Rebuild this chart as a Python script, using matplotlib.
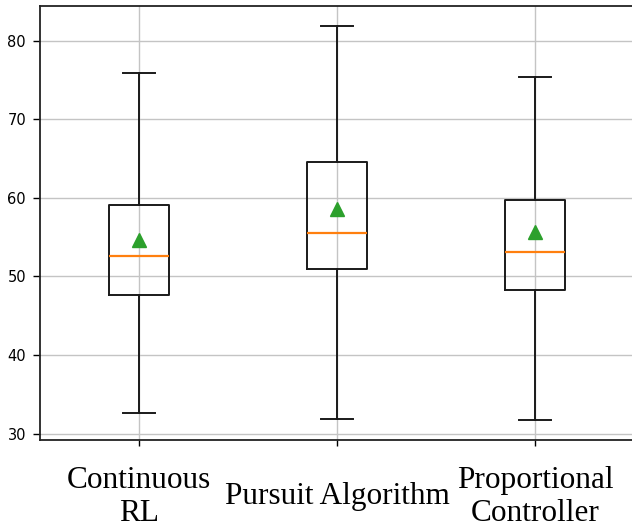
import matplotlib.pyplot as plt

methods = ['Continuous\nRL', 'Pursuit Algorithm', 'Proportional\nController']
whislo = [32.6, 31.9, 31.7]
q1 = [47.7, 51.0, 48.3]
med = [52.6, 55.5, 53.1]
q3 = [59.1, 64.6, 59.7]
whishi = [75.9, 81.9, 75.4]
means = [54.6, 58.6, 55.6]

stats = []
for i in range(len(methods)):
    stats.append({'label': methods[i], 'whislo': whislo[i], 'q1': q1[i], 'med': med[i],
                  'q3': q3[i], 'whishi': whishi[i], 'mean': means[i], 'fliers': []})

fig = plt.figure(figsize=(6.32, 5.31), dpi=100)
ax = fig.add_axes([40 / 632, 91 / 531, 594 / 632, 434 / 531])

lw = 1.4
ax.bxp(stats, widths=0.3, capwidths=0.16, showmeans=True,
       boxprops=dict(linewidth=lw, color='#1a1a1a'),
       whiskerprops=dict(linewidth=lw, color='#1a1a1a'),
       capprops=dict(linewidth=lw, color='#1a1a1a'),
       medianprops=dict(linewidth=1.6, color='#ff7f0e'),
       meanprops=dict(marker='^', markersize=9.5, markerfacecolor='#2ca02c', markeredgecolor='#2ca02c'))

ax.grid(True, color='#c4c4c4', linewidth=1.0)
ax.set_axisbelow(True)
for s in ax.spines.values():
    s.set_linewidth(1.3)
    s.set_color('#222222')

ax.tick_params(axis='y', length=5, width=1.0, pad=5, labelsize=10.5)
ax.tick_params(axis='x', length=4, width=1.0, pad=37)
for lab in ax.get_xticklabels():
    lab.set_fontfamily('Liberation Serif')
    lab.set_fontsize(22.5)
    lab.set_linespacing(1.15)
    lab.set_verticalalignment('center')

fig.savefig('out.png', dpi=100)
